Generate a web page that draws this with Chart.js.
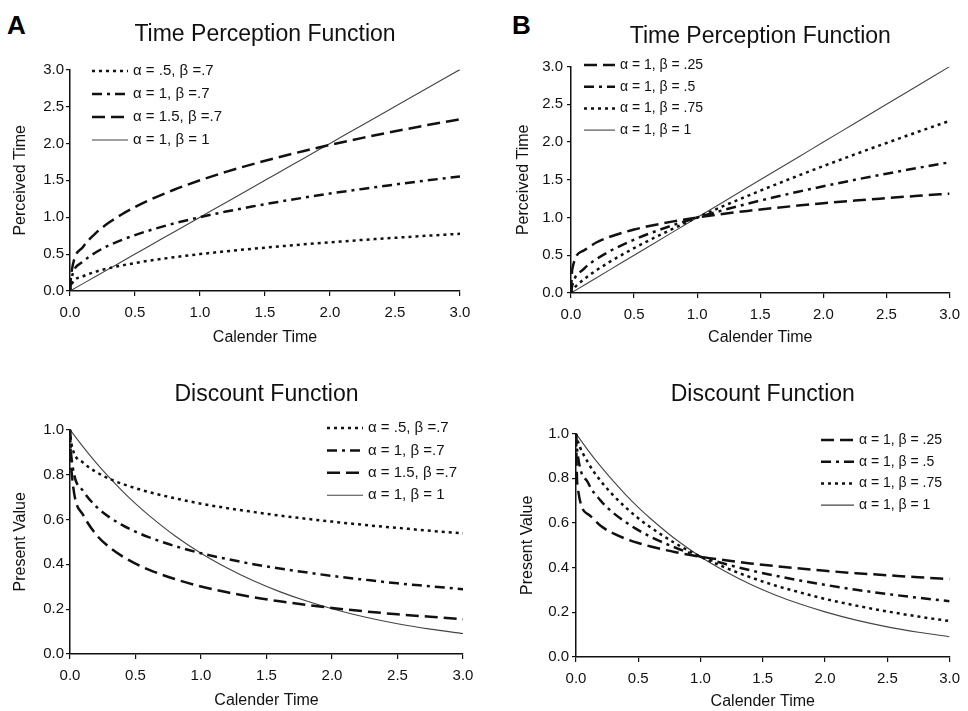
<!DOCTYPE html>
<html>
<head>
<meta charset="utf-8">
<script src="https://cdn.jsdelivr.net/npm/chart.js@4.4.0/dist/chart.umd.min.js"></script>
<style>
  body { margin: 0; background: #fff; width: 968px; height: 711px; position: relative; overflow: hidden; font-family: "Liberation Sans", Arial, sans-serif; }
  canvas { position: absolute; }
  .letter { position: absolute; font-weight: bold; font-size: 26px; line-height: 1; color: #000; }
</style>
</head>
<body>
<div class="letter" style="left:7px;top:12px">A</div>
<div class="letter" style="left:512px;top:12px">B</div>
<canvas id="perceptionA" width="484" height="355" style="left:0;top:0"></canvas>
<canvas id="perceptionB" width="484" height="355" style="left:484px;top:0"></canvas>
<canvas id="discountA" width="484" height="356" style="left:0;top:355px"></canvas>
<canvas id="discountB" width="484" height="356" style="left:484px;top:355px"></canvas>
<script>
// calender time points shared by every curve
const calenderTime = [0, 0.01, 0.1, 0.2, 0.3, 0.4, 0.5, 0.6, 0.8, 1.0, 1.2, 1.4, 1.6, 1.8, 2.0, 2.25, 2.5, 2.75, 3.0];

// panel A, time perception
const perceivedA05 = [0, 0.079, 0.199, 0.263, 0.309, 0.347, 0.379, 0.408, 0.457, 0.500, 0.538, 0.572, 0.603, 0.633, 0.660, 0.692, 0.721, 0.749, 0.776];
const perceivedA1 = [0, 0.158, 0.398, 0.525, 0.618, 0.693, 0.758, 0.815, 0.915, 1.000, 1.076, 1.144, 1.207, 1.265, 1.320, 1.383, 1.443, 1.499, 1.552];
const perceivedA15 = [0, 0.238, 0.597, 0.788, 0.927, 1.040, 1.137, 1.223, 1.372, 1.500, 1.614, 1.716, 1.810, 1.898, 1.979, 2.075, 2.164, 2.248, 2.328];
const perceivedLinear = [0, 0.01, 0.1, 0.2, 0.3, 0.4, 0.5, 0.6, 0.8, 1.0, 1.2, 1.4, 1.6, 1.8, 2.0, 2.25, 2.5, 2.75, 3.0];

// panel B, time perception
const perceivedB25 = [0, 0.316, 0.562, 0.669, 0.740, 0.795, 0.841, 0.880, 0.946, 1.000, 1.047, 1.088, 1.125, 1.158, 1.189, 1.225, 1.257, 1.288, 1.316];
const perceivedB50 = [0, 0.100, 0.316, 0.447, 0.548, 0.632, 0.707, 0.775, 0.894, 1.000, 1.095, 1.183, 1.265, 1.342, 1.414, 1.500, 1.581, 1.658, 1.732];
const perceivedB75 = [0, 0.032, 0.178, 0.299, 0.405, 0.503, 0.595, 0.682, 0.846, 1.000, 1.147, 1.287, 1.423, 1.554, 1.682, 1.837, 1.988, 2.136, 2.280];

// panel A, discount
const discountA05 = [1, 0.939, 0.853, 0.811, 0.781, 0.758, 0.739, 0.722, 0.694, 0.670, 0.650, 0.633, 0.617, 0.603, 0.590, 0.575, 0.562, 0.549, 0.538];
const discountA1 = [1, 0.881, 0.727, 0.657, 0.610, 0.574, 0.545, 0.521, 0.481, 0.449, 0.423, 0.400, 0.381, 0.364, 0.348, 0.331, 0.315, 0.302, 0.289];
const discountA15 = [1, 0.827, 0.620, 0.532, 0.476, 0.435, 0.403, 0.376, 0.334, 0.301, 0.275, 0.253, 0.235, 0.219, 0.205, 0.190, 0.177, 0.166, 0.155];
const discountLinear = [1, 0.992, 0.923, 0.852, 0.787, 0.726, 0.670, 0.619, 0.527, 0.449, 0.383, 0.326, 0.278, 0.237, 0.202, 0.165, 0.135, 0.111, 0.091];

// panel B, discount
const discountB25 = [1, 0.777, 0.638, 0.586, 0.553, 0.529, 0.510, 0.495, 0.469, 0.449, 0.433, 0.419, 0.407, 0.396, 0.386, 0.375, 0.366, 0.357, 0.349];
const discountB50 = [1, 0.923, 0.777, 0.699, 0.645, 0.603, 0.568, 0.538, 0.489, 0.449, 0.416, 0.388, 0.364, 0.342, 0.323, 0.301, 0.282, 0.265, 0.250];
const discountB75 = [1, 0.975, 0.867, 0.787, 0.723, 0.669, 0.621, 0.580, 0.508, 0.449, 0.400, 0.357, 0.320, 0.289, 0.260, 0.230, 0.204, 0.181, 0.161];

const labelsA = ['\u03b1 = .5, \u03b2 =.7', '\u03b1 = 1, \u03b2 =.7', '\u03b1 = 1.5, \u03b2 =.7', '\u03b1 = 1, \u03b2 = 1'];
const labelsB = ['\u03b1 = 1, \u03b2 = .25', '\u03b1 = 1, \u03b2 = .5', '\u03b1 = 1, \u03b2 = .75', '\u03b1 = 1, \u03b2 = 1'];

const FONT = '"Liberation Sans", Arial, sans-serif';

// line styles
const dotted = { borderDash: [3, 4], borderWidth: 2.5, borderColor: '#111' };
const dashDot = { borderDash: [10, 5, 3, 5], borderWidth: 2.5, borderColor: '#111' };
const longDash = { borderDash: [13, 6], borderWidth: 2.5, borderColor: '#111' };
const solid = { borderDash: [], borderWidth: 1.1, borderColor: '#444' };

function points(ys) {
    return calenderTime.map((x, i) => ({ x: x, y: ys[i] }));
}

function series(label, ys, style) {
    return Object.assign({ label: label, data: points(ys), pointRadius: 0, fill: false,
        cubicInterpolationMode: 'monotone' }, style);
}

// legend drawn inside the plot area
const insideLegend = {
    id: 'insideLegend',
    afterDatasetsDraw(chart, args, opts) {
        const ctx = chart.ctx;
        ctx.save();
        ctx.font = opts.size + 'px ' + FONT;
        ctx.textBaseline = 'middle';
        chart.data.datasets.forEach((ds, i) => {
            const y = opts.y + i * opts.rowH;
            ctx.beginPath();
            ctx.setLineDash(ds.borderDash);
            ctx.lineWidth = ds.borderWidth;
            ctx.strokeStyle = ds.borderColor;
            ctx.moveTo(opts.x, y);
            ctx.lineTo(opts.x + opts.len, y);
            ctx.stroke();
            ctx.setLineDash([]);
            ctx.fillStyle = '#111';
            ctx.fillText(ds.label, opts.x + opts.len + 5, y);
        });
        ctx.restore();
    }
};

function makePanel(id, p) {
    return new Chart(document.getElementById(id), {
        type: 'line',
        data: { datasets: p.datasets },
        plugins: [insideLegend],
        options: {
            responsive: false,
            animation: false,
            layout: { padding: { left: 0, right: p.right, top: 0, bottom: 0 } },
            plugins: {
                legend: { display: false },
                tooltip: { enabled: false },
                title: {
                    display: true,
                    text: p.title,
                    fullSize: false,
                    color: '#111',
                    font: { family: FONT, size: 23, weight: 'normal' },
                    padding: p.titlePad
                },
                insideLegend: p.legend
            },
            scales: {
                x: {
                    type: 'linear',
                    min: 0,
                    max: 3,
                    afterFit: (s) => { s.height = p.xHeight; },
                    ticks: { stepSize: 0.5, padding: 8, color: '#111', font: { family: FONT, size: 15 },
                        callback: (v) => v.toFixed(1) },
                    grid: { drawOnChartArea: false, tickLength: 5, color: '#111', lineWidth: 1.2 },
                    border: { color: '#111', width: 1.5 },
                    title: { display: true, text: 'Calender Time', color: '#111',
                        font: { family: FONT, size: 16 }, padding: { top: 0, bottom: p.xTitlePad } }
                },
                y: {
                    min: 0,
                    max: p.yMax,
                    afterFit: (s) => { s.width = p.left; },
                    ticks: { stepSize: p.yStep, padding: p.yTickPad, color: '#111', font: { family: FONT, size: 15 },
                        callback: (v) => v.toFixed(1) },
                    grid: { drawOnChartArea: false, tickLength: 4, color: '#111', lineWidth: 1.2 },
                    border: { color: '#111', width: 1.5 },
                    title: { display: true, text: p.yTitle, color: '#111',
                        font: { family: FONT, size: 16 }, padding: { top: p.yTitlePad, bottom: 0 } }
                }
            }
        }
    });
}

makePanel('perceptionA', {
    title: 'Time Perception Function', yTitle: 'Perceived Time', yMax: 3, yStep: 0.5,
    left: 70, right: 24, xHeight: 64, titlePad: { top: 21, bottom: 21 },
    xTitlePad: 8, yTitlePad: 11, yTickPad: 2,
    legend: { x: 92, y: 71, rowH: 23, len: 36, size: 15 },
    datasets: [
        series(labelsA[0], perceivedA05, dotted),
        series(labelsA[1], perceivedA1, dashDot),
        series(labelsA[2], perceivedA15, longDash),
        series(labelsA[3], perceivedLinear, solid)
    ]
});

makePanel('perceptionB', {
    title: 'Time Perception Function', yTitle: 'Perceived Time', yMax: 3, yStep: 0.5,
    left: 87, right: 16, xHeight: 62, titlePad: { top: 23, bottom: 16 },
    xTitlePad: 8, yTitlePad: 30, yTickPad: 4,
    legend: { x: 100, y: 65, rowH: 21.7, len: 31, size: 14 },
    datasets: [
        series(labelsB[0], perceivedB25, longDash),
        series(labelsB[1], perceivedB50, dashDot),
        series(labelsB[2], perceivedB75, dotted),
        series(labelsB[3], perceivedLinear, solid)
    ]
});

makePanel('discountA', {
    title: 'Discount Function', yTitle: 'Present Value', yMax: 1, yStep: 0.2,
    left: 70, right: 21, xHeight: 57, titlePad: { top: 26, bottom: 21 },
    xTitlePad: 1, yTitlePad: 11, yTickPad: 2,
    legend: { x: 327, y: 73, rowH: 22.4, len: 36, size: 15 },
    datasets: [
        series(labelsA[0], discountA05, dotted),
        series(labelsA[1], discountA1, dashDot),
        series(labelsA[2], discountA15, longDash),
        series(labelsA[3], discountLinear, solid)
    ]
});

makePanel('discountB', {
    title: 'Discount Function', yTitle: 'Present Value', yMax: 1, yStep: 0.2,
    left: 92, right: 11, xHeight: 54, titlePad: { top: 26, bottom: 25 },
    xTitlePad: 0, yTitlePad: 34, yTickPad: 3,
    legend: { x: 337, y: 85, rowH: 21.7, len: 33, size: 14 },
    datasets: [
        series(labelsB[0], discountB25, longDash),
        series(labelsB[1], discountB50, dashDot),
        series(labelsB[2], discountB75, dotted),
        series(labelsB[3], discountLinear, solid)
    ]
});
</script>
</body>
</html>
